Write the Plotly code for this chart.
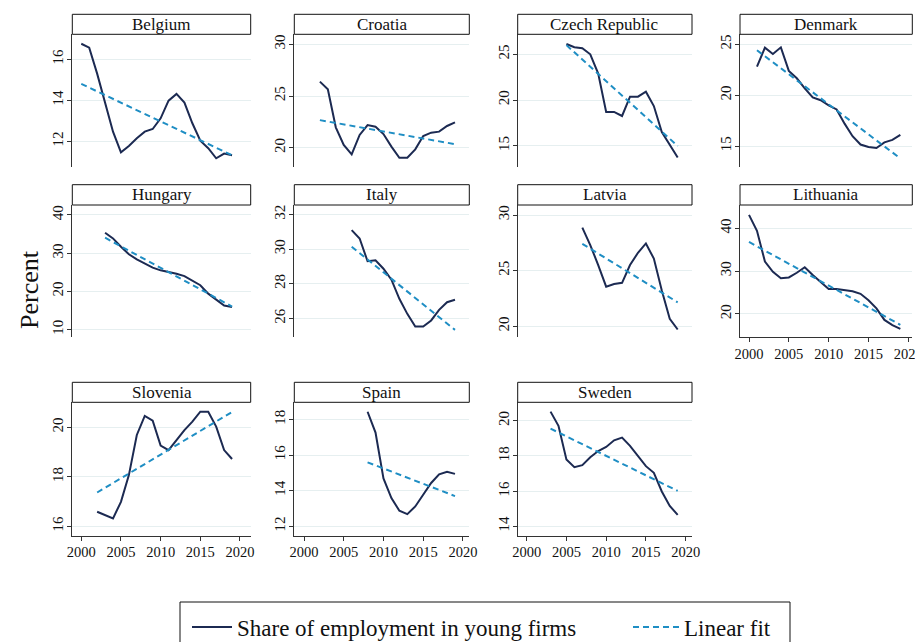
import numpy as np
import plotly.graph_objects as go

# The page body adds an 8px margin; geometry below is in viewport pixels.
OFF = 8
W, H = 923 - OFF, 642 - OFF
FONT = "Liberation Serif"
NAVY = "#1c2a52"
FITC = "#1f8ec4"

countries = ["Belgium", "Croatia", "Czech Republic", "Denmark", "Hungary", "Italy",
             "Latvia", "Lithuania", "Slovenia", "Spain", "Sweden"]
start_years = [2000, 2002, 2005, 2001, 2003, 2006, 2007, 2000, 2002, 2008, 2003]

belgium = [16.76, 16.57, 15.3, 13.9, 12.47, 11.46, 11.77, 12.15, 12.47, 12.6, 13.12,
           13.98, 14.31, 13.89, 12.88, 12.03, 11.66, 11.17, 11.4, 11.32]
croatia = [26.39, 25.65, 21.97, 20.26, 19.35, 21.23, 22.19, 22.03, 21.32, 20.1, 19.03,
           19.03, 19.84, 21.13, 21.45, 21.55, 22.1, 22.45]
czech = [26.13, 25.77, 25.66, 25.0, 22.9, 18.7, 18.7, 18.25, 20.36, 20.36, 20.9,
         19.34, 16.5, 15.07, 13.7]
denmark = [22.8, 24.67, 24.05, 24.7, 22.38, 21.66, 20.67, 19.77, 19.5, 19.0, 18.6,
           17.2, 15.97, 15.15, 14.9, 14.8, 15.36, 15.6, 16.1]
hungary = [35.35, 33.86, 31.67, 29.7, 28.4, 27.3, 26.2, 25.5, 25.1, 24.6, 24.0, 22.9,
           21.6, 19.4, 17.8, 16.3, 15.9]
italy = [31.09, 30.61, 29.3, 29.36, 28.87, 28.24, 27.14, 26.27, 25.54, 25.54, 25.89,
         26.5, 26.94, 27.08]
latvia = [28.86, 27.3, 25.5, 23.55, 23.8, 23.9, 25.5, 26.6, 27.44, 26.08, 23.2, 20.66, 19.7]
lithuania = [43.1, 39.4, 32.2, 29.8, 28.3, 28.5, 29.6, 30.9, 29.1, 27.4, 25.8, 25.8,
             25.5, 25.3, 24.7, 23.2, 21.3, 18.6, 17.4, 16.5]
slovenia = [16.59, 16.45, 16.32, 16.99, 18.07, 19.69, 20.46, 20.27, 19.26, 19.08, 19.49,
            19.89, 20.23, 20.63, 20.63, 20.03, 19.08, 18.72]
spain = [18.43, 17.26, 14.68, 13.58, 12.87, 12.68, 13.11, 13.74, 14.43, 14.91, 15.06, 14.94]
sweden = [20.52, 19.71, 17.8, 17.36, 17.48, 17.93, 18.28, 18.51, 18.89, 19.04, 18.57,
          17.99, 17.42, 17.04, 15.98, 15.16, 14.65]

series = [belgium, croatia, czech, denmark, hungary, italy, latvia, lithuania,
          slovenia, spain, sweden]

y_ranges = [[10.76, 17.22], [18.16, 30.97], [12.7, 27.19], [12.97, 25.98],
            [7.98, 42.6], [24.92, 32.54], [19.0, 30.9], [14.55, 45.4],
            [15.61, 21.01], [11.45, 18.96], [13.45, 21.05]]
y_dticks = [2, 5, 5, 5, 10, 2, 5, 10, 2, 2, 2]
x_ticks = [2000, 2005, 2010, 2015, 2020]

# layout geometry (viewport pixels)
col_px = [(72.3, 250.7), (294.3, 469.3), (517.7, 692.0), (740.0, 912.3)]
col_xr = [[1998.87, 2021.35], [1998.78, 2020.8], [1998.87, 2020.8], [1998.87, 2020.5]]
row_px = [(34.3, 166.7), (205.0, 337.3), (402.3, 536.0)]
box_top = [14.3, 184.7, 382.3]
bottom_panels = {"Lithuania", "Slovenia", "Spain", "Sweden"}

def px2x(p):
    return (p - OFF) / W

def px2y(p):
    return 1 - (p - OFF) / H

fig = go.Figure()
shapes = []
annotations = []

for i, (name, y0, vals) in enumerate(zip(countries, start_years, series)):
    r, c = divmod(i, 4)
    years = np.arange(y0, y0 + len(vals))
    xa = "x" if i == 0 else f"x{i+1}"
    ya = "y" if i == 0 else f"y{i+1}"
    fig.add_trace(go.Scatter(x=years, y=vals, mode="lines", xaxis=xa, yaxis=ya,
                             line=dict(color=NAVY, width=2),
                             name="Share of employment in young firms",
                             showlegend=(i == 0), legend="legend"))
    b, a = np.polyfit(years, vals, 1)
    fx = np.array([years[0], years[-1]])
    fig.add_trace(go.Scatter(x=fx, y=a + b * fx, mode="lines", xaxis=xa, yaxis=ya,
                             line=dict(color=FITC, width=2, dash="6px,4px"),
                             name="Linear fit", showlegend=(i == 0), legend="legend2"))
    xd = [px2x(col_px[c][0]), px2x(col_px[c][1])]
    yd = [px2y(row_px[r][1]), px2y(row_px[r][0])]
    is_bottom = name in bottom_panels
    key = "" if i == 0 else str(i + 1)
    fig.layout["xaxis" + key] = dict(
        domain=xd, anchor=ya, range=col_xr[c], showgrid=False, zeroline=False,
        showline=is_bottom, linecolor="#333333", linewidth=1,
        ticks="outside" if is_bottom else "", ticklen=4, tickcolor="#333333",
        tickvals=x_ticks, showticklabels=is_bottom, ticklabelstandoff=-1,
        tickfont=dict(family=FONT, size=14.5, color="#111111"))
    fig.layout["yaxis" + key] = dict(
        domain=yd, anchor=xa, range=y_ranges[i], dtick=y_dticks[i], tick0=0,
        showgrid=True, gridcolor="#e6eff0", gridwidth=1, zeroline=False,
        showline=True, linecolor="#333333", linewidth=1,
        ticks="outside", ticklen=4, tickcolor="#333333", tickangle=-90,
        ticklabelstandoff=-2,
        tickfont=dict(family=FONT, size=15, color="#111111"))
    # title box
    shapes.append(dict(type="rect", xref="paper", yref="paper",
                       x0=xd[0], x1=xd[1], y0=px2y(row_px[r][0]), y1=px2y(box_top[r]),
                       line=dict(color="#111111", width=1), fillcolor="white"))
    annotations.append(dict(xref="paper", yref="paper", x=(xd[0] + xd[1]) / 2,
                            y=px2y((box_top[r] + row_px[r][0]) / 2), text=name,
                            showarrow=False, xanchor="center", yanchor="middle",
                            font=dict(family=FONT, size=17, color="#111111")))

# legend box
shapes.append(dict(type="rect", xref="paper", yref="paper",
                   x0=px2x(180), x1=px2x(790), y0=px2y(660), y1=px2y(602),
                   line=dict(color="#111111", width=1), fillcolor="rgba(0,0,0,0)"))

annotations.append(dict(xref="paper", yref="paper", x=px2x(29), y=px2y(290),
                        text="Percent", textangle=-90, showarrow=False,
                        xanchor="center", yanchor="middle",
                        font=dict(family=FONT, size=26, color="#111111")))

legend_font = dict(family=FONT, size=23, color="#111111")
fig.update_layout(
    width=W, height=H, margin=dict(l=0, r=0, t=0, b=0, autoexpand=False),
    paper_bgcolor="white", plot_bgcolor="white",
    shapes=shapes, annotations=annotations,
    legend=dict(orientation="h", x=px2x(187), y=px2y(627), xanchor="left",
                yanchor="middle", itemwidth=40, font=legend_font,
                bgcolor="rgba(0,0,0,0)"),
    legend2=dict(orientation="h", x=px2x(628), y=px2y(627), xanchor="left",
                 yanchor="middle", itemwidth=46, font=legend_font,
                 bgcolor="rgba(0,0,0,0)"),
)

fig.write_html("out.html")
